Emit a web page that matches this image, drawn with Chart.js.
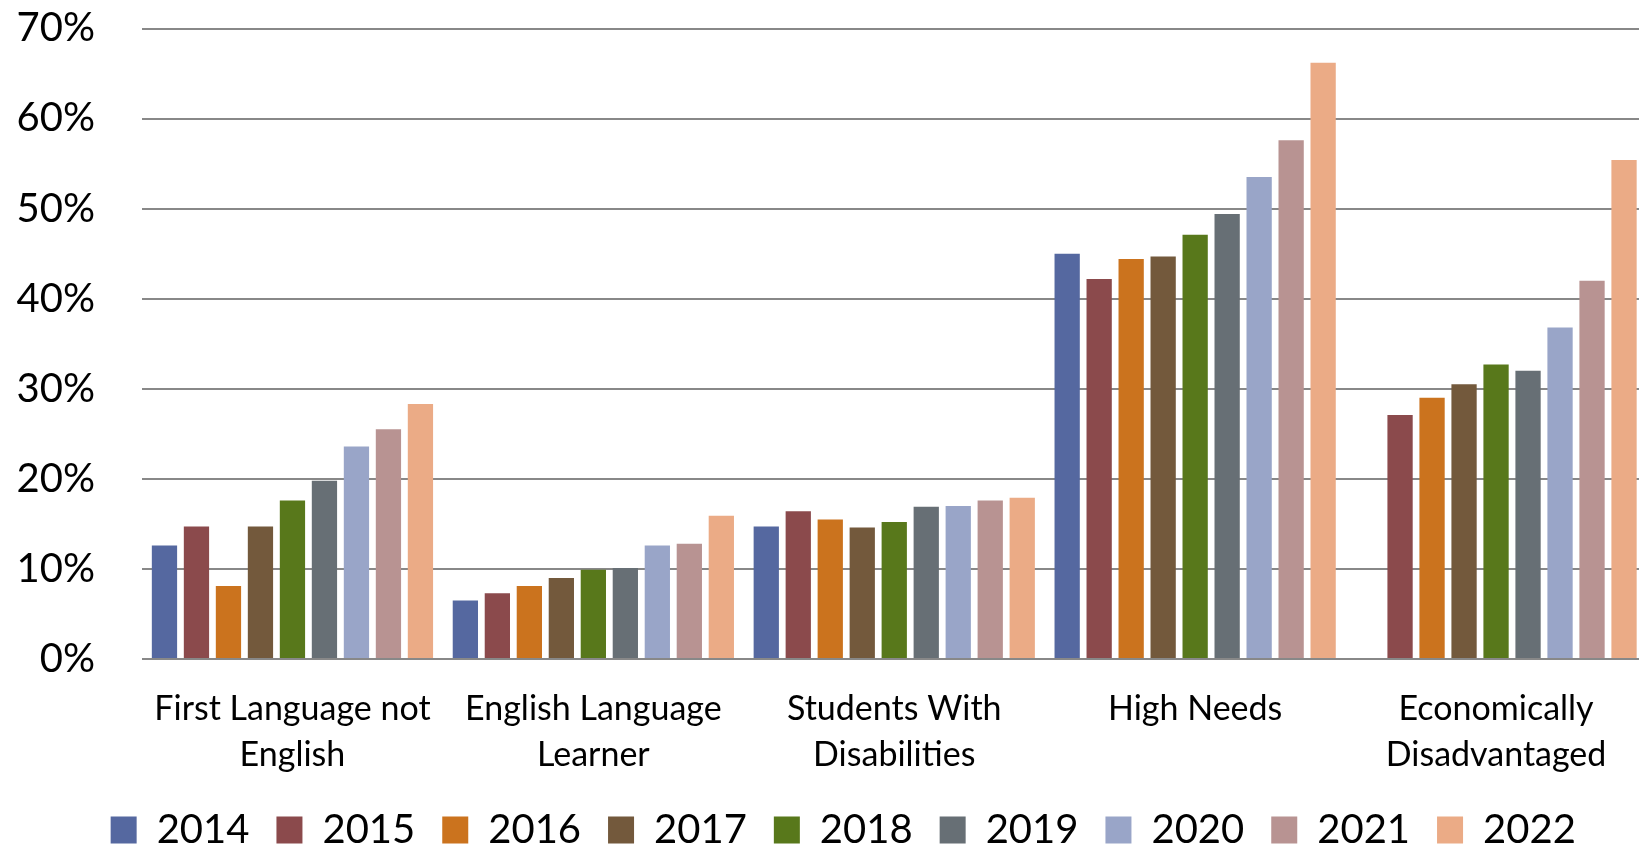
<!DOCTYPE html>
<html>
<head>
<meta charset="utf-8">
<script src="https://cdn.jsdelivr.net/npm/chart.js@4.4.1/dist/chart.umd.min.js"></script>
<style>
	html, body { margin: 0; padding: 0; background: #fff; overflow: hidden; }
	canvas { display: block; }
</style>
</head>
<body>
<canvas id="myChart" width="1680" height="860"></canvas>
<script>
// categories on the x axis (already split into lines)
const categories = [
	["First Language not", "English"],
	["English Language", "Learner"],
	["Students With", "Disabilities"],
	["High Needs"],
	["Economically", "Disadvantaged"]
]

const years = ["2014", "2015", "2016", "2017", "2018", "2019", "2020", "2021", "2022"]

// percent values, one array per year, in category order
const values2014 = [12.6, 6.5, 14.7, 45.0, null]
const values2015 = [14.7, 7.3, 16.4, 42.2, 27.1]
const values2016 = [8.1, 8.1, 15.5, 44.4, 29.0]
const values2017 = [14.7, 9.0, 14.6, 44.7, 30.5]
const values2018 = [17.6, 9.9, 15.2, 47.1, 32.7]
const values2019 = [19.8, 10.1, 16.9, 49.4, 32.0]
const values2020 = [23.6, 12.6, 17.0, 53.5, 36.8]
const values2021 = [25.5, 12.8, 17.6, 57.6, 42.0]
const values2022 = [28.3, 15.9, 17.9, 66.2, 55.4]

const yTicks = [0, 10, 20, 30, 40, 50, 60, 70]

const seriesValues = [values2014, values2015, values2016, values2017, values2018,
	values2019, values2020, values2021, values2022]

const colors = ["#5568A0", "#8B4A4C", "#CB731E", "#73593C", "#58781B",
	"#676F75", "#99A5C8", "#B89392", "#EBAB86"]

const datasets = years.map((year, i) => ({
	label: year,
	data: seriesValues[i],
	backgroundColor: colors[i],
	borderWidth: 0,
	categoryPercentage: 0.957,
	barPercentage: 0.79
}))

// the legend is centred on the original (wider) chart, nudge it right
const legendShift = {
	id: "legendShift",
	afterLayout(chart) {
		chart.legend.left += 20
		chart.legend.right += 20
	}
}

new Chart("myChart", {
	type: "bar",
	data: {
		labels: categories,
		datasets: datasets
	},
	plugins: [legendShift],
	options: {
		responsive: false,
		animation: false,
		devicePixelRatio: 1,
		layout: {
			padding: { left: 0, right: 33.5, top: 28.5, bottom: 0 }
		},
		plugins: {
			legend: {
				position: "bottom",
				labels: {
					font: { family: "Lato", size: 40 },
					color: "#000",
					boxWidth: 26,
					boxHeight: 27,
					padding: 27
				}
			},
			tooltip: { enabled: false }
		},
		scales: {
			x: {
				grid: { display: false },
				border: { display: false },
				ticks: {
					font: { family: "Lato", size: 34, lineHeight: 1.35 },
					color: "#000",
					padding: 19,
					maxRotation: 0,
					autoSkip: false
				},
				afterFit: (scale) => { scale.height = 124 }
			},
			y: {
				min: 0,
				max: 70,
				afterBuildTicks: (scale) => { scale.ticks = yTicks.map(v => ({ value: v })) },
				grid: { color: "#888888", lineWidth: 2, drawTicks: false },
				border: { display: false },
				ticks: {
					font: { family: "Lato", size: 40 },
					color: "#000",
					padding: 47,
					callback: (v) => v + "%"
				},
				afterFit: (scale) => {
					scale.width = 142
					scale.paddingTop = 0
					scale.paddingBottom = 0
				}
			}
		}
	}
})
</script>
</body>
</html>
